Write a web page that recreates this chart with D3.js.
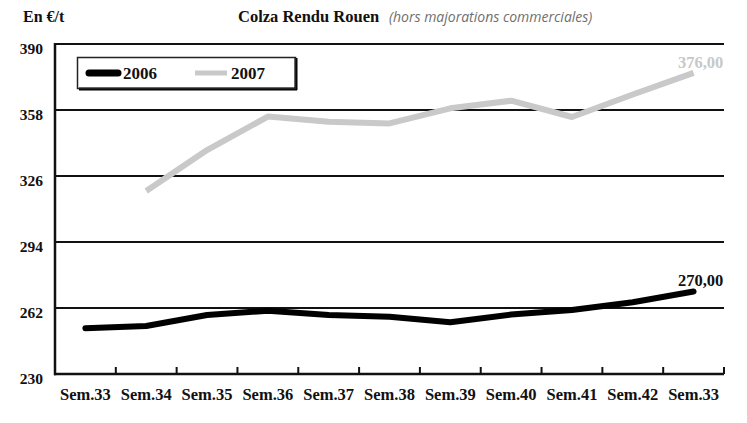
<!DOCTYPE html>
<html>
<head>
<meta charset="utf-8">
<script src="https://cdn.jsdelivr.net/npm/d3@7"></script>
<style>
  html, body { margin: 0; padding: 0; background: #ffffff; }
  svg { display: block; }
</style>
</head>
<body>
<svg id="chart" width="747" height="423"></svg>
<script>
// ---- data ----
const categories = ["Sem.33", "Sem.34", "Sem.35", "Sem.36", "Sem.37", "Sem.38", "Sem.39", "Sem.40", "Sem.41", "Sem.42", "Sem.33"];
const series2006 = [252.2, 253.3, 258.6, 260.7, 258.6, 257.8, 255.1, 258.8, 261.0, 264.8, 270.0];
const series2007 = [null, 318.7, 338.6, 354.8, 352.3, 351.5, 358.8, 362.5, 354.6, 365.5, 376.0];
const yTicks = [230, 262, 294, 326, 358, 390];
const seriesNames = ["2006", "2007"];
const endLabels = ["270,00", "376,00"];

(function () {
// ---- layout ----
const svg = d3.select("#chart");
const pLeft = 55, pRight = 724, pTop = 44, pBottom = 374;
const serif = "'Liberation Serif', 'Times New Roman', serif";

const x = d3.scaleBand().domain(d3.range(categories.length)).range([pLeft, pRight]).padding(0);
const y = d3.scaleLinear().domain([230, 390]).range([pBottom, pTop]);

// gridlines
svg.append("g").selectAll("line").data(yTicks.filter(d => d !== 230)).join("line")
  .attr("x1", pLeft).attr("x2", pRight)
  .attr("y1", d => y(d)).attr("y2", d => y(d))
  .attr("stroke", "#111").attr("stroke-width", 2);

// y axis labels
const yAxis = svg.append("g").attr("transform", `translate(${pLeft},0)`)
  .call(d3.axisLeft(y).tickValues(yTicks).tickSize(0).tickPadding(12));
yAxis.select(".domain").remove();
yAxis.selectAll("text")
  .attr("dy", "0.68em")
  .attr("y", -1)
  .style("font-family", serif).style("font-weight", "bold").style("font-size", "15.5px").attr("fill", "#111");

// x axis labels
const xAxis = svg.append("g").attr("transform", `translate(0,${pBottom})`)
  .call(d3.axisBottom(x).tickFormat(i => categories[i]).tickSize(0).tickPadding(14));
xAxis.select(".domain").remove();
xAxis.selectAll("text")
  .style("font-family", serif).style("font-weight", "bold").style("font-size", "16.5px").attr("fill", "#111");

// x ticks (inward, at band boundaries)
svg.append("g").selectAll("line").data(d3.range(categories.length)).join("line")
  .attr("x1", d => x(d) + x.bandwidth()).attr("x2", d => x(d) + x.bandwidth())
  .attr("y1", pBottom).attr("y2", pBottom - 7)
  .attr("stroke", "#111").attr("stroke-width", 2);

// axis lines
svg.append("line").attr("x1", pLeft).attr("x2", pLeft).attr("y1", pTop - 1).attr("y2", pBottom + 1.2)
  .attr("stroke", "#111").attr("stroke-width", 2.5);
svg.append("line").attr("x1", pLeft - 1).attr("x2", pRight).attr("y1", pBottom).attr("y2", pBottom)
  .attr("stroke", "#111").attr("stroke-width", 2.5);

// lines
const line = d3.line()
  .defined(d => d != null)
  .x((d, i) => x(i) + x.bandwidth() / 2)
  .y(d => y(d));

svg.append("path").datum(series2007)
  .attr("d", line).attr("fill", "none")
  .attr("stroke", "#c9c9c9").attr("stroke-width", 6)
  .attr("stroke-linejoin", "round").attr("stroke-linecap", "butt");

svg.append("path").datum(series2006)
  .attr("d", line).attr("fill", "none")
  .attr("stroke", "#000").attr("stroke-width", 6)
  .attr("stroke-linejoin", "round").attr("stroke-linecap", "round");

// end labels
const lastI = categories.length - 1;
svg.append("text")
  .attr("x", x(lastI) + x.bandwidth() / 2 + 7).attr("y", y(series2006[lastI]) - 6)
  .attr("text-anchor", "middle")
  .style("font-family", serif).style("font-weight", "bold").style("font-size", "16.5px")
  .attr("fill", "#111").text(endLabels[0]);
svg.append("text")
  .attr("x", x(lastI) + x.bandwidth() / 2 + 7).attr("y", y(series2007[lastI]) - 5)
  .attr("text-anchor", "middle")
  .style("font-family", serif).style("font-weight", "bold").style("font-size", "16.5px")
  .attr("fill", "#c8c8c8").text(endLabels[1]);

// legend
const lg = svg.append("g");
lg.append("line").attr("x1", 79).attr("x2", 297).attr("y1", 89).attr("y2", 89)
  .attr("stroke", "#000").attr("stroke-width", 3);
lg.append("line").attr("x1", 296).attr("x2", 296).attr("y1", 58).attr("y2", 90)
  .attr("stroke", "#000").attr("stroke-width", 3);
lg.append("rect").attr("x", 77.5).attr("y", 57.5).attr("width", 218).attr("height", 31)
  .attr("fill", "none").attr("stroke", "#222").attr("stroke-width", 1.5);
lg.append("line").attr("x1", 89).attr("x2", 118).attr("y1", 73).attr("y2", 73)
  .attr("stroke", "#000").attr("stroke-width", 7).attr("stroke-linecap", "round");
lg.append("text").attr("x", 123).attr("y", 79)
  .style("font-family", serif).style("font-weight", "bold").style("font-size", "17px")
  .attr("fill", "#111").text(seriesNames[0]);
lg.append("line").attr("x1", 195).attr("x2", 227).attr("y1", 73).attr("y2", 73)
  .attr("stroke", "#c9c9c9").attr("stroke-width", 5);
lg.append("text").attr("x", 231).attr("y", 79)
  .style("font-family", serif).style("font-weight", "bold").style("font-size", "17px")
  .attr("fill", "#111").text(seriesNames[1]);

// titles
svg.append("text").attr("x", 23).attr("y", 22)
  .style("font-family", serif).style("font-weight", "bold").style("font-size", "16px")
  .attr("fill", "#111").text("En €/t");
const title = svg.append("text").attr("x", 238).attr("y", 22)
  .style("font-family", serif).style("font-size", "16.5px").attr("fill", "#111");
title.append("tspan").style("font-weight", "bold").text("Colza Rendu Rouen");
title.append("tspan").attr("x", 389)
  .style("font-family", "'Open Sans', sans-serif").style("font-style", "italic")
  .style("font-size", "14px").attr("fill", "#6f6f6f").text("(hors majorations commerciales)");
})();
</script>
</body>
</html>
